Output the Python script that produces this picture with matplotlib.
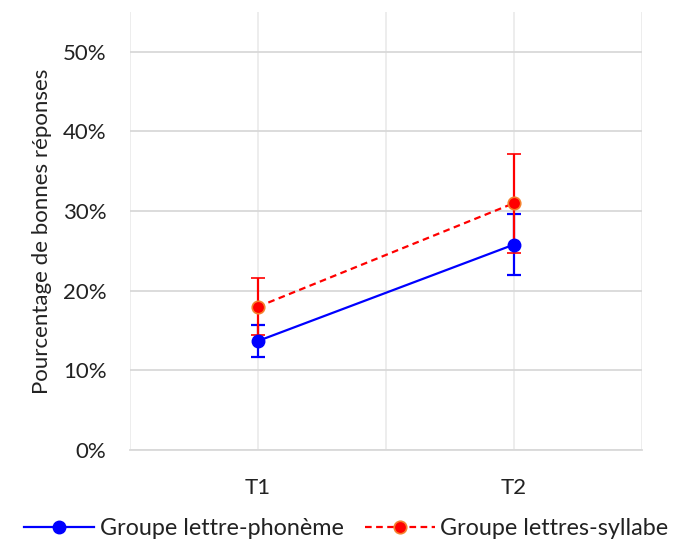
import numpy as np
import matplotlib.pyplot as plt
from matplotlib.lines import Line2D
from matplotlib.ticker import PercentFormatter

plt.rcParams['font.family'] = ['Lato', 'DejaVu Sans']
txt = '#222222'

#data
temps = ["T1", "T2"]
phoneme = [13.7, 25.8]
phoneme_err = [2.0, 3.85]
syllabe = [18.0, 31.0]
syllabe_err = [3.6, 6.2]

x = np.arange(1, len(temps) + 1)

fig = plt.figure(figsize=(6.79, 5.41), dpi=100)
ax = fig.add_axes([0.1915, 0.168, 0.754, 0.81])

ax.errorbar(x, phoneme, yerr=phoneme_err, color='#0000ff', lw=1.6, marker='o',
            ms=9, capsize=5, capthick=1.6, zorder=3)
ax.errorbar(x, syllabe, yerr=syllabe_err, color='#ff0000', lw=1.6, ls=(0, (3, 2)),
            marker='o', ms=9, mec='#f5822e', mew=1.2, capsize=5, capthick=1.6,
            zorder=3)

ax.set_xlim(0.5, 2.5)
ax.set_ylim(0, 55)
ax.set_yticks(np.arange(0, 51, 10))
ax.yaxis.set_major_formatter(PercentFormatter(decimals=0))
ax.set_xticks(x)
ax.set_xticklabels(temps)
ax.set_xticks([0.5, 1.5, 2.5], minor=True)
ax.grid(axis='y', color='#d9d9d9', lw=1.3)
ax.grid(axis='x', which='both', color='#ececec', lw=1.3)
ax.tick_params(which='both', length=0, labelsize=16, labelcolor=txt)
ax.tick_params(axis='x', pad=20)
ax.tick_params(axis='y', pad=17)
for s in ax.spines.values():
    s.set_visible(False)
ax.spines['bottom'].set_visible(True)
ax.spines['bottom'].set_color('#d9d9d9')
ax.spines['bottom'].set_linewidth(1.3)
ax.set_axisbelow(True)
ax.set_ylabel("Pourcentage de bonnes réponses", fontsize=16, color=txt, labelpad=8)

handles = [
    Line2D([], [], color='#0000ff', lw=1.6, marker='o', ms=9),
    Line2D([], [], color='#ff0000', lw=1.6, ls=(0, (3, 2)), marker='o', ms=9,
           mec='#f5822e', mew=1.2),
]
labels = ["Groupe lettre-phonème", "Groupe lettres-syllabe"]
leg = fig.legend(handles, labels, loc='lower center', bbox_to_anchor=(0.51, -0.035),
                 ncol=2, frameon=False, fontsize=16.8, handlelength=3.0,
                 columnspacing=0.9, handletextpad=0.25)
for t in leg.get_texts():
    t.set_color(txt)

plt.savefig("out.png")
